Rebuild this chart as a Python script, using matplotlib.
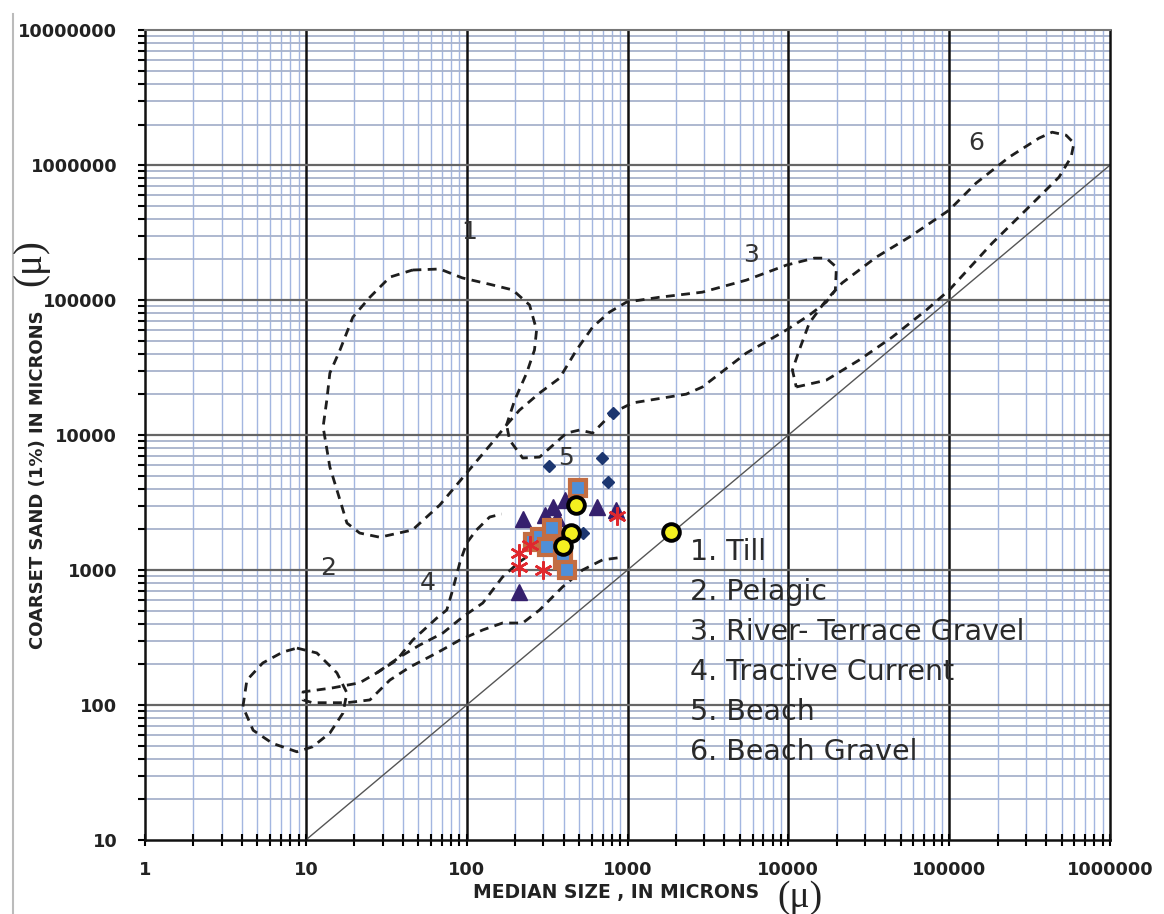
import numpy as np
import matplotlib
matplotlib.use("Agg")
from matplotlib import pyplot as plt
from matplotlib.lines import Line2D
from matplotlib.ticker import FixedLocator, NullFormatter, FuncFormatter

# --- environment outlines (microns) ---
till_x = [46, 68, 94, 139, 193, 246, 272, 264, 236, 199, 177, 145, 100, 68, 46,
          28.8, 21.6, 18, 16.3, 14.1, 12.8, 13.5, 14.1, 16.3, 19.6, 25, 33.3]
till_y = [167000, 170000, 146000, 131000, 119000, 92000, 60000, 42700, 28800, 18200,
          11900, 8870, 5240, 3030, 1980, 1750, 1880, 2230, 3300, 5800, 11500, 18200,
          28800, 42700, 74800, 105000, 148000]

pelagic_x = [8.8, 11.7, 15.6, 18, 17, 14.1, 11, 8.8, 6.2, 4.7, 4.06, 4.3, 5.4, 7.2]
pelagic_y = [264, 243, 173, 123, 87, 62, 49, 45, 52, 65, 97, 153, 205, 247]

river_x = [177, 213, 284, 378, 482, 607, 773, 986, 1580, 2920, 5480, 9720, 14500, 17200,
           19900, 19600, 17200, 13500, 9720, 5480, 2920, 2320, 1074, 807, 607, 504, 418,
           284, 223, 185]
river_y = [11900, 15300, 20500, 26400, 42700, 63100, 81500, 96600, 105000, 114500, 140600,
           181600, 204600, 204600, 175400, 118600, 96600, 77400, 60000, 40500, 22700,
           20100, 17300, 14600, 10350, 10900, 10350, 6870, 6760, 9180]

tractive_x = [867, 700, 525, 394, 284, 223, 167, 126, 90.6, 65.2, 44.3, 33.3, 25, 18, 11,
              9.6, 9.6, 14.7, 21.6, 27.6, 36.7, 46.2, 65.2, 75.2, 81.8, 90.6, 100, 115,
              139, 165]
tractive_y = [1230, 1190, 1000, 748, 506, 405, 405, 360, 303, 243, 191, 153, 109, 104, 104,
              109, 125, 134, 146, 173, 215, 303, 441, 506, 711, 1130, 1585, 1980, 2470, 2600]
tractive2_x = [27.6, 38.4, 51, 71, 94.4, 126, 167, 213, 257]
tractive2_y = [173, 227, 278, 341, 449, 570, 887, 1150, 1340]

gravel_x = [11200, 17200, 27600, 44300, 72000, 100000, 185000, 300000, 482000, 573000,
            597000, 533000, 437000, 362000, 236000, 147000, 100000, 56500, 35200, 21600,
            17200, 13500, 11700, 10600]
gravel_y = [22700, 25500, 36000, 53200, 84300, 118600, 264000, 465000, 815000, 1146000,
            1455000, 1667000, 1754000, 1585000, 1146000, 736000, 464000, 293000, 208000,
            134000, 100000, 67600, 42700, 30300]

# --- samples ---
diamond_x = [323, 690, 751, 807, 525, 469]
diamond_y = [5890, 6760, 4490, 14550, 1880, 3030]
triangle_x = [223, 210, 642, 842, 342, 406, 362, 305]
triangle_y = [2390, 687, 2930, 2780, 2930, 3300, 2430, 2550]
square_x = [489, 257, 284, 314, 395, 418, 337]
square_y = [4050, 1610, 1750, 1480, 1186, 1000, 2050]
star_x = [210, 210, 297, 855, 246]
star_y = [1340, 1050, 1000, 2510, 1530]
circle_x = [475, 443, 395, 1877]
circle_y = [3030, 1880, 1510, 1910]

region_labels = ["1", "2", "3", "4", "5", "6"]
label_x = [104, 13.7, 5890, 57.3, 412, 147000]
label_y = [319000, 1035, 215000, 802, 6760, 1455000]

legend_text = ["1. Till", "2. Pelagic", "3. River- Terrace Gravel",
               "4. Tractive Current", "5. Beach", "6. Beach Gravel"]

xticks = [1, 10, 100, 1000, 10000, 100000, 1000000]
yticks = [10, 100, 1000, 10000, 100000, 1000000, 10000000]

fig = plt.figure(figsize=(11.64, 9.14), dpi=100)
ax = fig.add_axes([0.1246, 0.081, 0.829, 0.886])
ax.set_xscale("log")
ax.set_yscale("log")
ax.set_xlim(1, 1e6)
ax.set_ylim(10, 1e7)

# graph-paper grid
minors = [m * 10.0 ** e for e in range(0, 7) for m in range(2, 10)]
for v in minors:
    if v < 1e6:
        ax.axvline(v, color="#a3b6e0", lw=1.0, zorder=0)
    if 10 < v < 1e7:
        ax.axhline(v, color="#a7b2cc", lw=1.3, zorder=0)
for v in xticks[1:-1]:
    ax.axvline(v, color="#111111", lw=1.8, zorder=0.5)
for v in yticks[1:-1]:
    ax.axhline(v, color="#666666", lw=1.6, zorder=0.5)

ax.plot([10, 1e6], [10, 1e6], color="#555555", lw=1.0, zorder=1)

dash = dict(color="#1e1e1e", lw=2.0, ls=(0, (3.2, 2.3)), zorder=2)
ax.plot(till_x + till_x[:1], till_y + till_y[:1], **dash)
ax.plot(pelagic_x + pelagic_x[:1], pelagic_y + pelagic_y[:1], **dash)
ax.plot(river_x + river_x[:1], river_y + river_y[:1], **dash)
ax.plot(gravel_x + gravel_x[:1], gravel_y + gravel_y[:1], **dash)
ax.plot(tractive_x, tractive_y, **dash)
ax.plot(tractive2_x, tractive2_y, **dash)

ax.plot(diamond_x, diamond_y, ls="none", marker="D", ms=6.5, color="#1c3670", zorder=3)
ax.plot(triangle_x, triangle_y, ls="none", marker="^", ms=12, color="#35206e", zorder=3)
ax.plot(square_x, square_y, ls="none", marker="s", ms=11, mfc="#4f8fd8",
        mec="#c36d42", mew=3, zorder=4)
ax.plot(star_x, star_y, ls="none", marker=(6, 2, 0), ms=13, mew=1.8,
        color="#e0282e", zorder=4)
ax.plot(circle_x, circle_y, ls="none", marker="o", ms=12, mfc="#f4f020",
        mec="black", mew=2.8, zorder=5)

for t, x, y in zip(region_labels, label_x, label_y):
    ax.text(x, y, t, fontsize=18, color="#333333", ha="center", va="center", zorder=6)

for i, t in enumerate(legend_text):
    ax.text(0.565, 0.356 - i * 0.0494, t, transform=ax.transAxes, fontsize=20.5,
            color="#2a2a2a", ha="left", va="center", zorder=6)

ax.xaxis.set_major_locator(FixedLocator(xticks))
ax.yaxis.set_major_locator(FixedLocator(yticks))
ax.xaxis.set_minor_locator(FixedLocator([v for v in minors if v < 1e6]))
ax.yaxis.set_minor_locator(FixedLocator([v for v in minors if 10 < v < 1e7]))
ax.xaxis.set_minor_formatter(NullFormatter())
ax.yaxis.set_minor_formatter(NullFormatter())
fmt = FuncFormatter(lambda v, p: f"{int(round(v))}")
ax.xaxis.set_major_formatter(fmt)
ax.yaxis.set_major_formatter(fmt)
ax.tick_params(axis="x", which="both", direction="inout", length=9, width=1.5, pad=11)
ax.tick_params(axis="y", which="both", direction="out", length=5, width=1.5, pad=15)
for lab in ax.get_xticklabels() + ax.get_yticklabels():
    lab.set_fontweight("bold")
    lab.set_fontsize(12.8)
    lab.set_color("#222222")

for s in ["left", "bottom", "right"]:
    ax.spines[s].set_linewidth(1.8)
    ax.spines[s].set_color("#111111")
ax.spines["top"].set_color("#777777")
ax.spines["top"].set_linewidth(1.5)

fig.text(0.529, 0.024, "MEDIAN SIZE , IN MICRONS", fontsize=13.5, fontweight="bold",
         color="#222222", ha="center", va="center")
fig.text(0.687, 0.018, "(\u03bc)", fontsize=27, family="Liberation Serif",
         color="#222222", ha="center", va="center")
fig.text(0.033, 0.475, "COARSET SAND (1%) IN MICRONS", fontsize=13, fontweight="bold",
         color="#222222", ha="center", va="center", rotation=90)
fig.text(0.026, 0.713, "(\u03bc)", fontsize=28, family="Liberation Serif",
         color="#222222", ha="center", va="center", rotation=90)

fig.add_artist(Line2D([0.011, 0.011], [0.0, 0.985], color="#bbbbbb", lw=1.5))

fig.savefig("out.png", dpi=100)
